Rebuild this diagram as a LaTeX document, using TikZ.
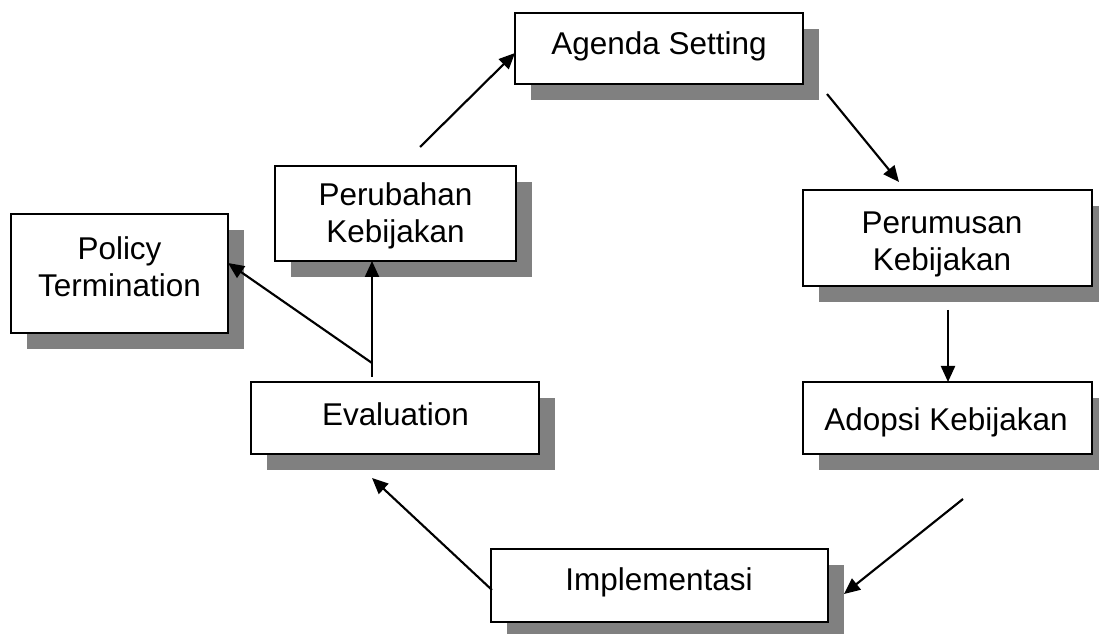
\documentclass[tikz,border=0pt]{standalone}
\usepackage{fontspec}
\setmainfont{Liberation Sans}
\usetikzlibrary{arrows.meta,shadows}
\definecolor{shadowgray}{RGB}{128,128,128}
\begin{document}
\begin{tikzpicture}[x=0.75pt,y=-0.75pt,
  box/.style={draw=black,line width=1.4pt,fill=white,inner sep=0pt,outer sep=0pt,
    drop shadow={shadow xshift=12pt,shadow yshift=-12pt,fill=shadowgray,opacity=1}},
  lbl/.style={inner sep=0pt,align=center,font=\fontsize{23.6}{27.8}\selectfont},
  arr/.style={line width=1.6pt,-{Triangle[length=12pt,width=10.5pt]}}]
\useasboundingbox (0,0) rectangle (1099,634);

% stages of the cycle
\node[box,minimum width=216pt,minimum height=53.25pt]   (ag) at (659,48.5)   {};
\node[box,minimum width=180.75pt,minimum height=71.25pt] (pb) at (395.5,213.5) {};
\node[box,minimum width=162.75pt,minimum height=89.25pt] (pt) at (119.5,273.5) {};
\node[box,minimum width=216.75pt,minimum height=72pt]   (pm) at (947.5,238)  {};
\node[box,minimum width=216.75pt,minimum height=54pt]   (ad) at (947.5,418)  {};
\node[box,minimum width=216pt,minimum height=54pt]      (ev) at (395,418)    {};
\node[box,minimum width=252.75pt,minimum height=54.75pt] (im) at (659.5,585.5) {};

% labels
\node[lbl] (agt) at (659,46)    {Agenda Setting};
\node[lbl] (pbt) at (395.5,216) {Perubahan\\Kebijakan};
\node[lbl] (ptt) at (119.5,267) {Policy\\Termination};
\node[lbl] (pmt) at (942,244)   {Perumusan\\Kebijakan};
\node[lbl] (adt) at (946,422)   {Adopsi Kebijakan};
\node[lbl] (evt) at (395.5,414) {Evaluation};
\node[lbl] (imt) at (659,582)   {Implementasi};

% free ends of the connectors
\coordinate (pbout) at (420,147);
\coordinate (agin)  at (515,53);
\coordinate (agout) at (827,94);
\coordinate (pmin)  at (899,182);
\coordinate (pmout) at (948,310);
\coordinate (adout) at (963,499);
\coordinate (imin)  at (844,594);
\coordinate (imout) at (492,590);
\coordinate (evin)  at (372,478);
\coordinate (evout) at (372,377);
\coordinate (split) at (372,363);
\coordinate (ptin)  at (228,263);

% connectors
\draw[arr] (pbout) -- (agin);
\draw[arr] (agout) -- (pmin);
\draw[arr] (pmout) -- (pmout |- ad.north);
\draw[arr] (adout) -- (imin);
\draw[arr] (imout) -- (evin);
\draw[arr] (evout) -- (evout |- pb.south);
\draw[arr] (split) -- (ptin);
\end{tikzpicture}
\end{document}
